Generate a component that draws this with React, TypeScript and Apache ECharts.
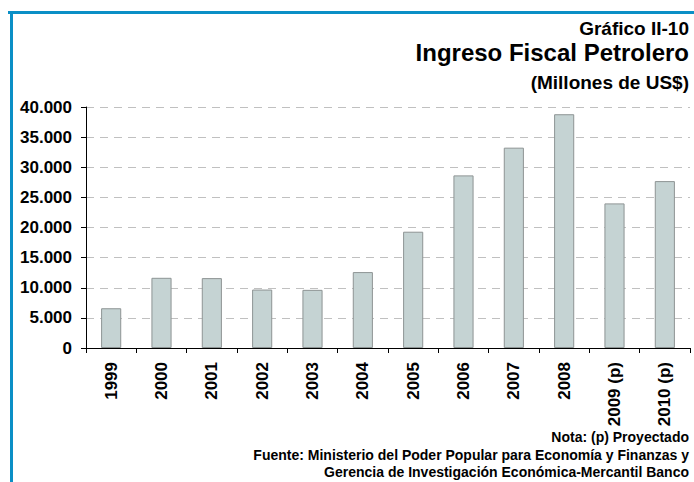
import React, { useEffect, useRef } from "react";
import * as echarts from "echarts";

const categories = ["1999", "2000", "2001", "2002", "2003", "2004", "2005", "2006", "2007", "2008", "2009 (p)", "2010 (p)"];
const values = [6600, 11650, 11600, 9700, 9650, 12600, 19300, 28650, 33250, 38800, 24000, 27700];
const yTicks = [0, 5000, 10000, 15000, 20000, 25000, 30000, 35000, 40000];

const FONT = "'Liberation Sans', Arial, sans-serif";

function fmt(v: number) {
  return String(v).replace(/\B(?=(\d{3})+(?!\d))/g, ".");
}

const t = (text: string, top: number, size: number) => ({
  text,
  right: 5,
  top,
  padding: 0,
  textStyle: { fontFamily: FONT, fontSize: size, fontWeight: "bold", color: "#000" },
});

export default function App() {
  const ref = useRef<HTMLDivElement>(null);
  useEffect(() => {
    document.body.style.margin = "0";
    const chart = echarts.init(ref.current!, null, { renderer: "svg" });
    chart.setOption({
      animation: false,
      backgroundColor: "#ffffff",
      textStyle: { fontFamily: FONT },
      title: [
        t("Gráfico II-10", 19, 19),
        t("Ingreso Fiscal Petrolero", 40, 24),
        t("(Millones de US$)", 73, 19),
        t("Nota: (p) Proyectado", 430, 14),
        t("Fuente: Ministerio del Poder Popular para Economía y Finanzas y", 448, 14),
        t("Gerencia de Investigación Económica-Mercantil Banco", 465, 14),
      ],
      grid: { left: 86, right: 4, top: 107, bottom: 134, containLabel: false },
      xAxis: {
        type: "category",
        data: categories,
        axisLine: { lineStyle: { color: "#000", width: 1 } },
        axisTick: { show: true, length: 5, lineStyle: { color: "#000" } },
        axisLabel: { rotate: 90, fontSize: 17, fontWeight: "bold", color: "#000", fontFamily: FONT, margin: 14, interval: 0 },
        splitLine: { show: false },
      },
      yAxis: {
        type: "value",
        min: 0,
        max: 40000,
        interval: 5000,
        axisLine: { show: true, lineStyle: { color: "#000", width: 1 } },
        axisTick: { show: true, length: 5, lineStyle: { color: "#000" } },
        axisLabel: {
          fontSize: 17,
          fontWeight: "bold",
          color: "#000",
          fontFamily: FONT,
          margin: 14,
          formatter: (v: number) => (yTicks.includes(v) ? fmt(v) : ""),
        },
        splitLine: { show: true, lineStyle: { color: "#c0c0c0", type: [8, 6], width: 1 } },
      },
      series: [
        {
          type: "bar",
          data: values,
          barWidth: "40%",
          itemStyle: { color: "#c5d3d3", borderColor: "#8e9494", borderWidth: 1 },
        },
      ],
      graphic: [
        { type: "rect", shape: { x: 8, y: 11, width: 700, height: 3 }, style: { fill: "#0a8fc6" } },
        { type: "rect", shape: { x: 10, y: 11, width: 3, height: 480 }, style: { fill: "#0a8fc6" } },
      ],
    });
    return () => chart.dispose();
  }, []);
  return <div ref={ref} style={{ width: 694, height: 482 }} />;
}
